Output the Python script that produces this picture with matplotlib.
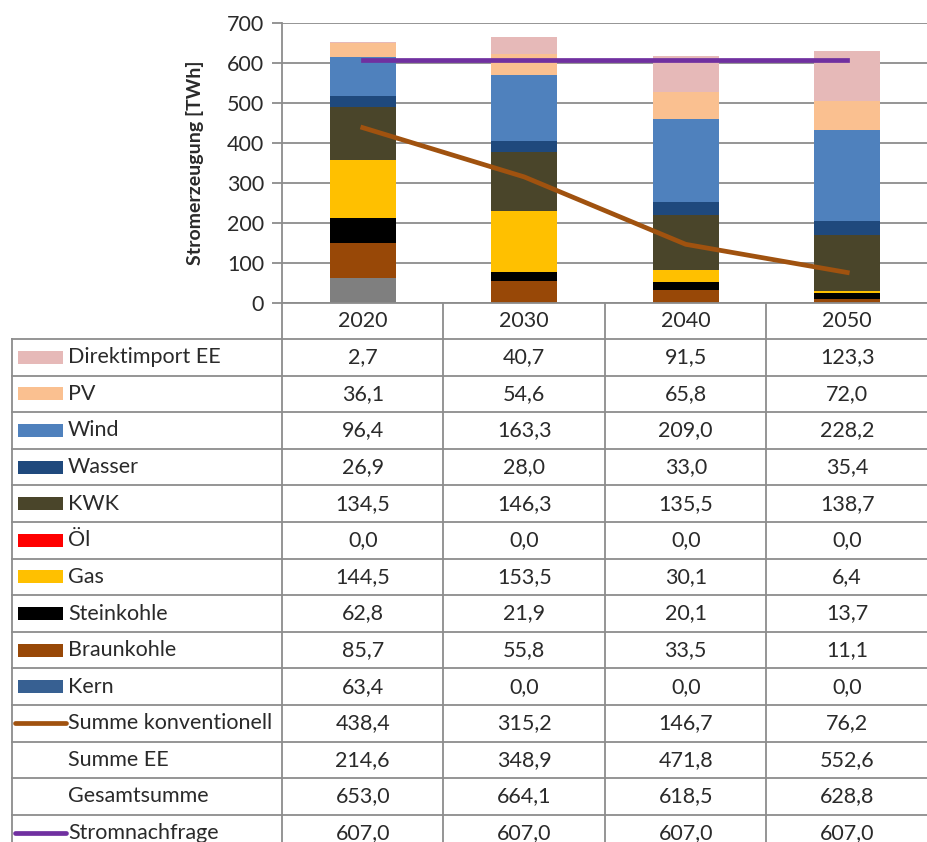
import numpy as np
import matplotlib
matplotlib.use("Agg")
import matplotlib.pyplot as plt
from matplotlib.patches import Rectangle

plt.rcParams['font.family'] = ['Lato', 'DejaVu Sans']

years = ["2020", "2030", "2040", "2050"]

# stack order bottom -> top
kern = [63.4, 0.0, 0.0, 0.0]
braunkohle = [85.7, 55.8, 33.5, 11.1]
steinkohle = [62.8, 21.9, 20.1, 13.7]
gas = [144.5, 153.5, 30.1, 6.4]
oel = [0.0, 0.0, 0.0, 0.0]
kwk = [134.5, 146.3, 135.5, 138.7]
wasser = [26.9, 28.0, 33.0, 35.4]
wind = [96.4, 163.3, 209.0, 228.2]
pv = [36.1, 54.6, 65.8, 72.0]
direktimport = [2.7, 40.7, 91.5, 123.3]

summe_konv = [438.4, 315.2, 146.7, 76.2]
summe_ee = [214.6, 348.9, 471.8, 552.6]
gesamtsumme = [653.0, 664.1, 618.5, 628.8]
stromnachfrage = [607.0, 607.0, 607.0, 607.0]

stack = [
    ("Kern", kern, "#7f7f7f"),
    ("Braunkohle", braunkohle, "#984807"),
    ("Steinkohle", steinkohle, "#000000"),
    ("Gas", gas, "#ffc000"),
    ("Öl", oel, "#ff0000"),
    ("KWK", kwk, "#4a452a"),
    ("Wasser", wasser, "#1f497d"),
    ("Wind", wind, "#4f81bd"),
    ("PV", pv, "#fac090"),
    ("Direktimport EE", direktimport, "#e6b9b8"),
]
legend_colors = {"Kern": "#376092"}

c_konv = "#a0520f"
c_nachfrage = "#7030a0"
grid_c = "#8c8c8c"
text_c = "#2a2a2a"
fs = 15.5

fig = plt.figure(figsize=(9.28, 8.42), dpi=100)

# --- chart ---
ax = fig.add_axes([282 / 928, 1 - 303 / 842, (928 - 282) / 928, (303 - 23) / 842])
x = np.arange(len(years))
bottom = np.zeros(len(years))
for name, vals, col in stack:
    ax.bar(x, vals, width=0.41, bottom=bottom, color=col, zorder=2)
    bottom += np.array(vals)
ax.plot(x, summe_konv, color=c_konv, lw=3.4, zorder=3)
ax.plot(x, stromnachfrage, color=c_nachfrage, lw=3.4, zorder=3)

ax.set_xlim(-0.5, 3.5)
ax.set_ylim(0, 700)
ax.set_yticks(np.arange(0, 701, 100))
ax.yaxis.grid(True, color=grid_c, lw=1.3, zorder=0)
ax.set_axisbelow(True)
ax.tick_params(axis='y', colors=grid_c, length=7, width=1.3, labelsize=fs,
               labelcolor=text_c, pad=6)
ax.set_xticks(x)
ax.set_xticklabels(years)
ax.tick_params(axis='x', length=0, labelsize=fs, labelcolor=text_c, pad=6)
for s in ["top", "right"]:
    ax.spines[s].set_visible(False)
for s in ["left", "bottom"]:
    ax.spines[s].set_color(grid_c)
    ax.spines[s].set_linewidth(1.3)
ax.set_ylabel("Stromerzeugung [TWh]", fontsize=14, fontweight='bold',
              color=text_c, labelpad=16)

# --- table below ---
tab_h = 842 - 303
tab = fig.add_axes([0, 0, 1, tab_h / 842])
tab.set_xlim(0, 928)
tab.set_ylim(tab_h, 0)
tab.axis('off')

col_w = (928 - 282) / 4
row_h = 36.6
head_h = 36

rows = [(name, vals) for name, vals, col in reversed(stack)]
row_names = [r[0] for r in rows] + ["Summe konventionell", "Summe EE",
                                     "Gesamtsumme", "Stromnachfrage"]
row_vals = [r[1] for r in rows] + [summe_konv, summe_ee, gesamtsumme, stromnachfrage]
swatch = {name: col for name, vals, col in stack}
swatch.update(legend_colors)

# vertical separators
for k in range(5):
    xx = 282 + k * col_w
    tab.plot([xx, xx], [0, tab_h], color=grid_c, lw=1.3)
tab.plot([12, 12], [head_h, tab_h], color=grid_c, lw=1.3)

for i, (name, vals) in enumerate(zip(row_names, row_vals)):
    y0 = head_h + i * row_h
    yc = y0 + row_h / 2
    tab.plot([12, 928], [y0, y0], color=grid_c, lw=1.3)
    if name in swatch:
        tab.add_patch(Rectangle((18, yc - 6.5), 45, 13, color=swatch[name], lw=0))
    elif name == "Summe konventionell":
        tab.plot([15, 66], [yc, yc], color=c_konv, lw=3.4, solid_capstyle='round')
    elif name == "Stromnachfrage":
        tab.plot([15, 66], [yc, yc], color=c_nachfrage, lw=3.4, solid_capstyle='round')
    tab.text(68, yc, name, fontsize=fs, color=text_c, va='center', ha='left')
    for j, v in enumerate(vals):
        tab.text(282 + (j + 0.5) * col_w, yc, f"{v:.1f}".replace(".", ","),
                 fontsize=fs, color=text_c, va='center', ha='center')

fig.savefig("out.png", dpi=100)
